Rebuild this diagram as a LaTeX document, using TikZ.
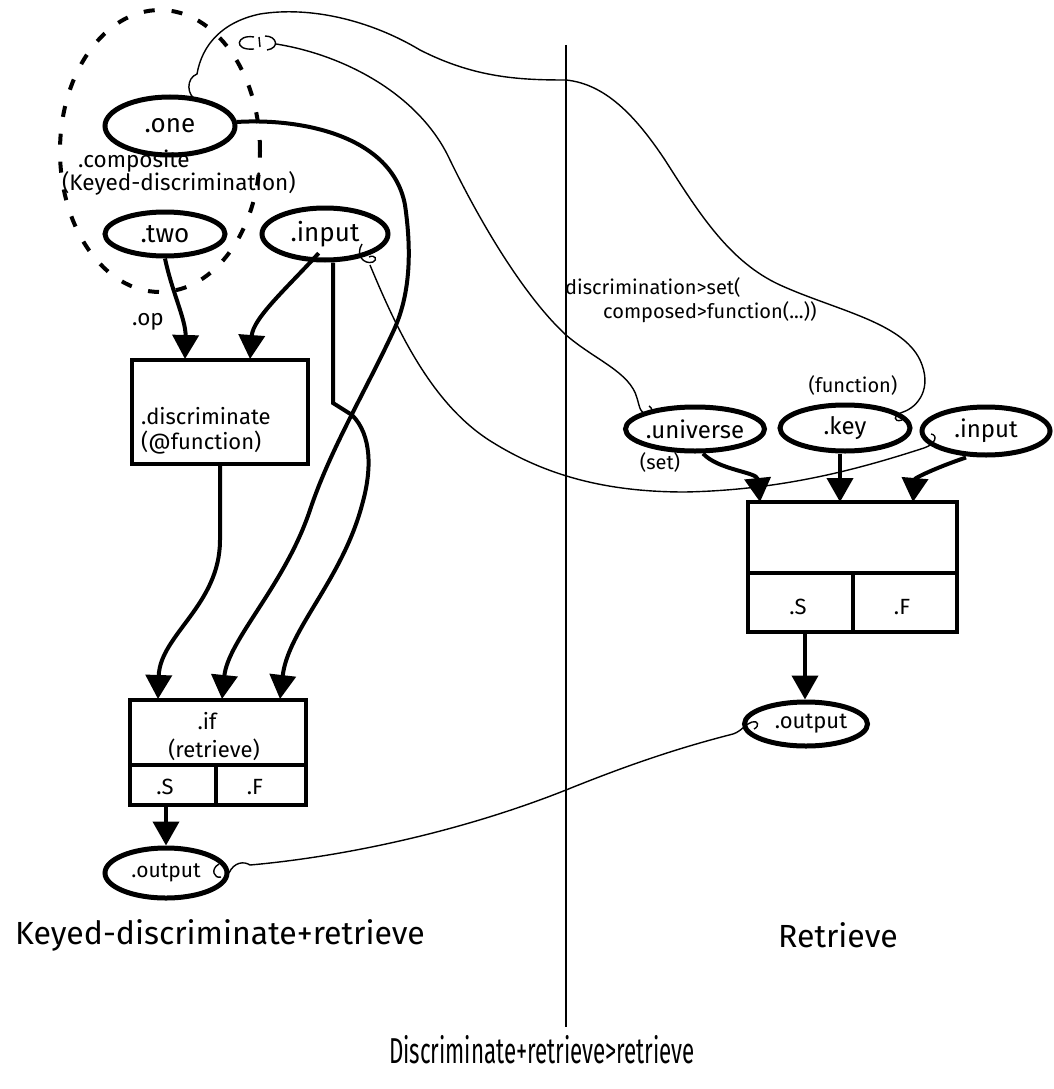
\documentclass[tikz,border=0pt]{standalone}
\usepackage{fontspec}
\setmainfont{Fira Sans}
\newfontfamily\narrowhand{Fira Sans}[FakeStretch=0.62]
\usetikzlibrary{arrows.meta,shapes.geometric}
\begin{document}
\begin{tikzpicture}[x=1pt,y=-1pt,
  port/.style={ellipse,draw,line width=5pt,inner sep=0pt,font=\fontsize{26}{28}\selectfont},
  rport/.style={port,font=\fontsize{24}{26}\selectfont},
  box/.style={rectangle,draw,line width=4pt,inner sep=0pt},
  group/.style={ellipse,draw,line width=4pt,dash pattern=on 11pt off 17pt,inner sep=0pt},
  flow/.style={line width=4pt,-{Triangle[length=24pt,width=26pt]}},
  wire/.style={line width=1.4pt},
  part/.style={line width=4pt},
  hw/.style={inner sep=0pt,font=\fontsize{22.5}{24}\selectfont},
  hwbig/.style={inner sep=0pt,font=\fontsize{22}{25}\selectfont},
  note/.style={inner sep=0pt,font=\fontsize{20}{24}\selectfont},
  title/.style={inner sep=0pt,font=\fontsize{32}{36}\selectfont}
]
\useasboundingbox (0,0) rectangle (1054,1089);

% divider between the two halves
\draw[line width=2.8pt] (566,45) coordinate (divtop) -- (566,1027) coordinate (divbot);

% ---------- left half: keyed discriminate + retrieve ----------
\node[group,minimum width=200pt,minimum height=282pt] (composite) at (160,151) {};
\node[port,minimum width=130pt,minimum height=58pt] (one) at (170,126) {.one};
\node[hw,anchor=west] (complbl) at (78,161) {.composite};
\node[hw,anchor=west] (kdlbl) at (62,183) {(Keyed-discrimination)};
\node[port,minimum width=120pt,minimum height=44pt] (two) at (165,234) {.two};
\node[port,minimum width=126pt,minimum height=52pt] (inl) at (325,234) {.input};
\node[hw] (op) at (148,322) {.op};

\node[box,minimum width=176pt,minimum height=104pt] (disc) at (220,412) {};
\node[hwbig,anchor=west,align=left] (disclbl) at (141,431) {.discriminate\\(@function)};

\node[box,minimum width=176pt,minimum height=105pt] (ifbox) at (218,752.5) {};
\draw[part] (ifbox.west |- 0,765) -- (ifbox.east |- 0,765);
\draw[part] (216,765) -- (ifbox.south -| 216,0);
\node[hwbig] (iflbl) at (207,721) {.if};
\node[hwbig] (retlbl) at (214,750) {(retrieve)};
\node[hwbig] (ifs) at (165,787) {.S};
\node[hwbig] (iff) at (255,787) {.F};

\node[port,minimum width=122pt,minimum height=50pt] (outl) at (166,873) {\fontsize{21}{23}\selectfont .output\hspace{12pt}};

\node[title] (ltitle) at (220,935) {Keyed-discriminate+retrieve};

% thick data flow on the left
\draw[flow] (two.south) .. controls (172,292) and (186,320) .. (185,359);
\draw[flow] (inl.south west) ++(40,-1) .. controls (287,288) and (253,318) .. (250,359);
\draw[flow] (disc.south) -- (220,540) .. controls (220,605) and (160,635) .. (158,699);
\draw[flow] (one.east) ++(-1,-4) .. controls (300,118) and (392,135) .. (405,205)
  .. controls (413,260) and (408,300) .. (393,332)
  .. controls (365,392) and (330,450) .. (310,510)
  .. controls (285,585) and (228,640) .. (222,699);
\draw[flow] (inl.south) ++(8,0) -- (333,403) -- (352,415)
  .. controls (372,435) and (372,470) .. (362,505)
  .. controls (342,580) and (288,630) .. (280,699);
\draw[flow] (ifbox.south -| 166,0) -- (outl.north);

% ---------- right half: retrieve ----------
\node[rport,minimum width=130pt,minimum height=44pt] (univ) at (695,429) {.universe};
\node[note] (setlbl) at (660,462) {(set)};
\node[rport,minimum width=130pt,minimum height=46pt] (key) at (845,428) {.key};
\node[note] (funlbl) at (853,385) {(function)};
\node[rport,minimum width=128pt,minimum height=48pt] (inr) at (986,431) {.input};

\node[box,minimum width=209pt,minimum height=130pt] (rbox) at (852.5,567) {};
\draw[part] (rbox.west |- 0,573) -- (rbox.east |- 0,573);
\draw[part] (853,573) -- (rbox.south -| 853,0);
\node[hwbig] (rs) at (798,607) {.S};
\node[hwbig] (rf) at (902,607) {.F};

\node[rport,minimum width=123pt,minimum height=44pt] (outr) at (806,724) {\hspace{10pt}\fontsize{22}{24}\selectfont .output};
\node[title] (rtitle) at (838,935) {Retrieve};

\draw[flow] (univ.south) ++(8,0) .. controls (718,470) and (757,472) .. (760,502);
\draw[flow] (key.south -| 840,0) -- (840,502);
\draw[flow] (inr.south) ++(-20,0) .. controls (935,468) and (915,478) .. (913,502);
\draw[flow] (rbox.south -| 805,0) -- (outr.north -| 805,0);

\node[note,anchor=west,align=left] (setnote) at (565,300) {discrimination>set(\\\hspace{38pt}composed>function(...))};

% ---------- thin bindings between the halves ----------
% .one to .key
\coordinate (ahook) at (198,101);
\draw[wire] (ahook) .. controls (186,96) and (186,78) .. (197,74)
  .. controls (202,45) and (222,22) .. (260,14)
  .. controls (310,6) and (370,20) .. (420,50)
  .. controls (475,78) and (520,80) .. (566,80)
  .. controls (605,84) and (635,115) .. (665,160)
  .. controls (700,215) and (730,262) .. (780,285)
  .. controls (835,310) and (902,322) .. (920,360)
  .. controls (933,388) and (918,407) .. (903,412)
  .. controls (893,415) and (893,423) .. (902,420);

% composite to .universe
\coordinate (bhook) at (254,37);
\draw[wire] (bhook) .. controls (236,34) and (233,51) .. (254,49);
\draw[wire] (259,37) -- (260,47);
\draw[wire] (265,36) .. controls (277,36) and (280,48) .. (267,50);
\draw[wire] (276,44) .. controls (345,55) and (420,95) .. (450,160)
  .. controls (485,232) and (528,300) .. (566,335)
  .. controls (595,360) and (630,372) .. (637,398)
  .. controls (640,408) and (640,414) .. (648,414)
  .. controls (653,414) and (653,408) .. (649,406);

% left .input to right .input
\draw[wire] (362,244) .. controls (355,255) and (364,265) .. (373,262)
  .. controls (378,260) and (375,254) .. (369,257);
\draw[wire] (370,265) .. controls (397,330) and (432,405) .. (492,442)
  .. controls (545,475) and (605,492) .. (685,492)
  .. controls (785,490) and (862,468) .. (924,448)
  .. controls (936,444) and (938,435) .. (931,434);

% left .output to right .output
\draw[wire] (219,864) .. controls (210,869) and (214,879) .. (221,877);
\draw[wire] (229,873) .. controls (234,862) and (244,861) .. (250,865)
  .. controls (330,858) and (450,836) .. (566,790)
  .. controls (640,760) and (690,745) .. (733,734)
  .. controls (742,731) and (745,724) .. (752,722)
  .. controls (758,720) and (760,726) .. (754,729);

\node[inner sep=0pt,font=\narrowhand\fontsize{36}{40}\selectfont] (btitle) at (542,1050) {Discriminate+retrieve>retrieve};
\end{tikzpicture}
\end{document}
